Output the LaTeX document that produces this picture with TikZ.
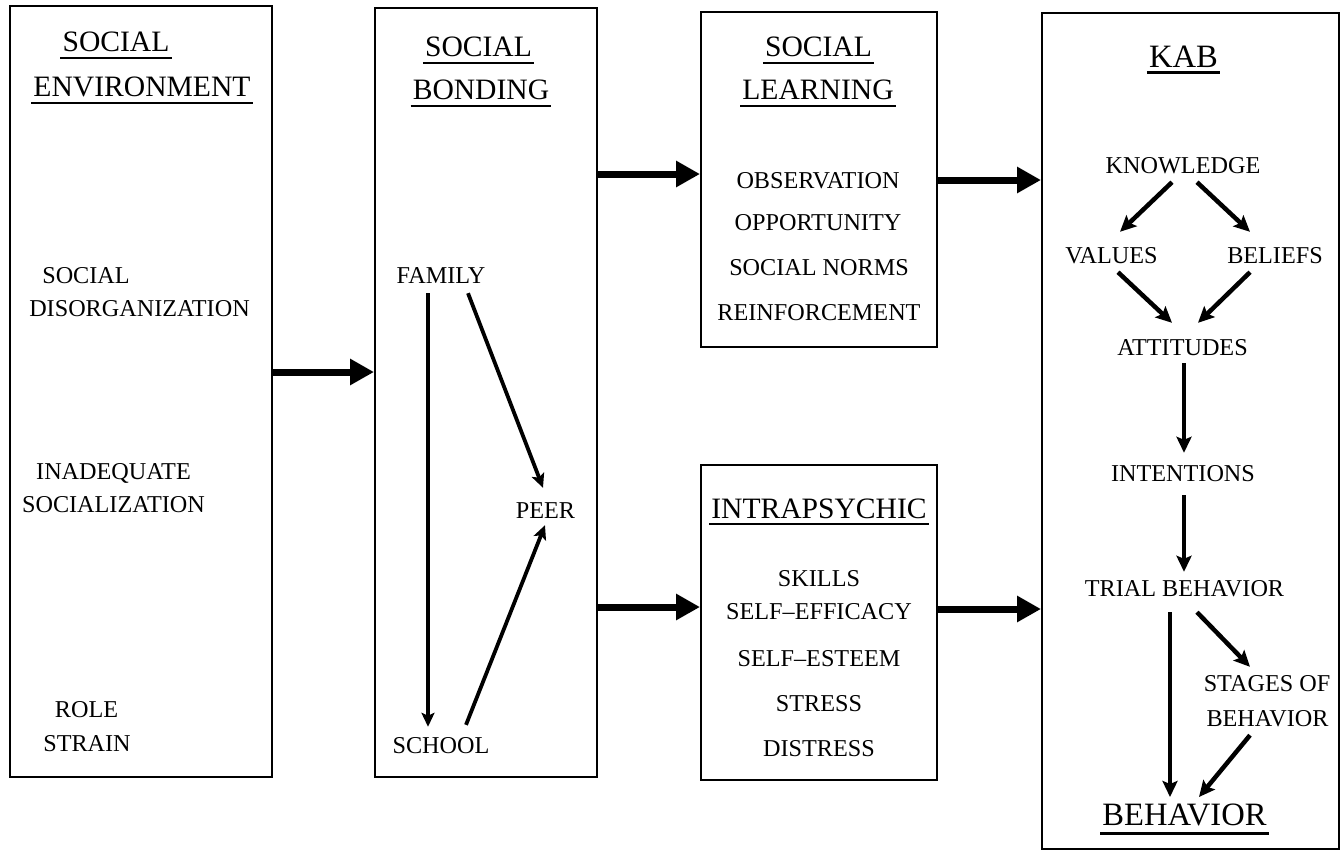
\documentclass[tikz,border=0pt]{standalone}
\usepackage{fontspec}
\setmainfont{Liberation Serif}
\usetikzlibrary{arrows.meta}
\begin{document}
\begin{tikzpicture}[x=1pt,y=-1pt,
  panel/.style={draw, line width=2pt, inner sep=0pt},
  txt/.style={inner sep=0pt, text height=16pt, text depth=0pt, font=\fontsize{24.2}{28}\selectfont},
  hdr/.style={inner xsep=2pt, inner ysep=0pt, text height=19.6pt, text depth=0pt, font=\fontsize{29.6}{34}\selectfont},
  bighdr/.style={inner xsep=2pt, inner ysep=0pt, text height=21.6pt, text depth=0pt, font=\fontsize{32.6}{38}\selectfont},
  uline/.style={line width=2.4pt},
  bigarrow/.style={line width=7pt, -{Triangle[length=24pt,width=25pt]}},
  flow/.style={line width=4.5pt, -{Stealth[length=16pt,width=15pt,inset=3pt]}},
  bond/.style={line width=3.8pt, -{Stealth[length=14pt,width=13pt,inset=3pt]}},
]
\useasboundingbox (0,0) rectangle (1342,852);
\fill[white] (0,0) rectangle (1342,852);

% panels
\node[panel, minimum width=262pt, minimum height=771pt] (b1) at (141,391.5) {};
\node[panel, minimum width=222pt, minimum height=769pt] (b2) at (486,392.5) {};
\node[panel, minimum width=236pt, minimum height=335pt] (b3) at (819,179.5) {};
\node[panel, minimum width=236pt, minimum height=315pt] (b4) at (819,622.5) {};
\node[panel, minimum width=297pt, minimum height=836pt] (b5) at (1190.5,431) {};

% social environment
\node[hdr] (envA) at (116,42) {SOCIAL};
\node[hdr] (envB) at (142,87) {ENVIRONMENT};
\draw[uline] ([yshift=-6pt]envA.south west) -- ([yshift=-6pt]envA.south east);
\draw[uline] ([yshift=-6pt]envB.south west) -- ([yshift=-6pt]envB.south east);
\node[txt] (disA) at (86,275) {SOCIAL};
\node[txt] (disB) at (139.5,308) {DISORGANIZATION};
\node[txt] (inaA) at (113.5,471) {INADEQUATE};
\node[txt] (inaB) at (113.5,504) {SOCIALIZATION};
\node[txt] (roleA) at (86.5,709) {ROLE};
\node[txt] (roleB) at (87,743) {STRAIN};

% social bonding
\node[hdr] (bonA) at (478.5,47) {SOCIAL};
\node[hdr] (bonB) at (481,90) {BONDING};
\draw[uline] ([yshift=-6pt]bonA.south west) -- ([yshift=-6pt]bonA.south east);
\draw[uline] ([yshift=-6pt]bonB.south west) -- ([yshift=-6pt]bonB.south east);
\node[txt] (family) at (441,275) {FAMILY};
\node[txt] (peer) at (545.5,510) {PEER};
\node[txt] (school) at (441,745) {SCHOOL};
\draw[bond] ([xshift=-13pt,yshift=-10pt]family.south) -- ([xshift=-13pt,yshift=10pt]school.north);
\draw[bond] ([xshift=27pt,yshift=-10pt]family.south) -- ([xshift=-2.5pt,yshift=14pt]peer.north);
\draw[bond] ([xshift=25pt,yshift=12pt]school.north) -- ([xshift=-0.5pt,yshift=-7pt]peer.south);

% social learning
\node[hdr] (lrnA) at (818.5,47) {SOCIAL};
\node[hdr] (lrnB) at (818,90) {LEARNING};
\draw[uline] ([yshift=-6pt]lrnA.south west) -- ([yshift=-6pt]lrnA.south east);
\draw[uline] ([yshift=-6pt]lrnB.south west) -- ([yshift=-6pt]lrnB.south east);
\node[txt] (obs) at (818,180) {OBSERVATION};
\node[txt] (opp) at (818,222) {OPPORTUNITY};
\node[txt] (norms) at (819,267) {SOCIAL NORMS};
\node[txt] (reinf) at (819,312) {REINFORCEMENT};

% intrapsychic
\node[hdr] (intra) at (819,509) {INTRAPSYCHIC};
\draw[uline] ([yshift=-5pt]intra.south west) -- ([yshift=-5pt]intra.south east);
\node[txt] (skills) at (819,578) {SKILLS};
\node[txt] (effic) at (819,611) {SELF--EFFICACY};
\node[txt] (esteem) at (819,658) {SELF--ESTEEM};
\node[txt] (stress) at (819,703) {STRESS};
\node[txt] (distr) at (819,748) {DISTRESS};

% KAB
\node[bighdr] (kab) at (1183.5,57) {KAB};
\draw[uline] ([yshift=-4.5pt]kab.south west) -- ([yshift=-4.5pt]kab.south east);
\node[txt] (know) at (1183,165) {KNOWLEDGE};
\node[txt] (values) at (1111.5,255) {VALUES};
\node[txt] (beliefs) at (1275,255) {BELIEFS};
\node[txt] (att) at (1182.5,347) {ATTITUDES};
\node[txt] (intent) at (1183,473) {INTENTIONS};
\node[txt] (trial) at (1184.5,588) {TRIAL BEHAVIOR};
\node[txt] (stgA) at (1267,683) {STAGES OF};
\node[txt] (stgB) at (1267.5,718) {BEHAVIOR};
\node[bighdr] (behav) at (1184.5,815) {BEHAVIOR};
\draw[uline] ([yshift=-7.5pt]behav.south west) -- ([yshift=-7.5pt]behav.south east);

\draw[flow] ([xshift=-11pt,yshift=-9pt]know.south) -- ([xshift=8.5pt,yshift=15pt]values.north);
\draw[flow] ([xshift=14pt,yshift=-9pt]know.south) -- ([xshift=-25pt,yshift=15pt]beliefs.north);
\draw[flow] ([xshift=6.5pt,yshift=-9pt]values.south) -- ([xshift=-10.5pt,yshift=16pt]att.north);
\draw[flow] ([xshift=-25pt,yshift=-9pt]beliefs.south) -- ([xshift=15.5pt,yshift=16pt]att.north);
\draw[flow] ([xshift=1.5pt,yshift=-8pt]att.south) -- ([xshift=1pt,yshift=12pt]intent.north);
\draw[flow] ([xshift=1pt,yshift=-14pt]intent.south) -- ([xshift=-0.5pt,yshift=8pt]trial.north);
\draw[flow] ([xshift=-14.5pt,yshift=-16pt]trial.south) -- ([xshift=-14.5pt,yshift=7pt]behav.north);
\draw[flow] ([xshift=12.5pt,yshift=-16pt]trial.south) -- ([xshift=-17pt,yshift=8pt]stgA.north);
\draw[flow] ([xshift=-17.5pt,yshift=-9pt]stgB.south) -- ([xshift=14.5pt,yshift=7pt]behav.north);

% links between panels
\draw[bigarrow] ([yshift=19.5pt]b1.east) -- ([yshift=19.5pt]b1.east -| b2.west);
\draw[bigarrow] ([yshift=218.5pt]b2.east) -- ([yshift=218.5pt]b2.east -| b3.west);
\draw[bigarrow] ([yshift=-214.5pt]b2.east) -- ([yshift=-214.5pt]b2.east -| b4.west);
\draw[bigarrow] ([yshift=-0.5pt]b3.east) -- ([yshift=-0.5pt]b3.east -| b5.west);
\draw[bigarrow] ([yshift=13.5pt]b4.east) -- ([yshift=13.5pt]b4.east -| b5.west);
\end{tikzpicture}
\end{document}
